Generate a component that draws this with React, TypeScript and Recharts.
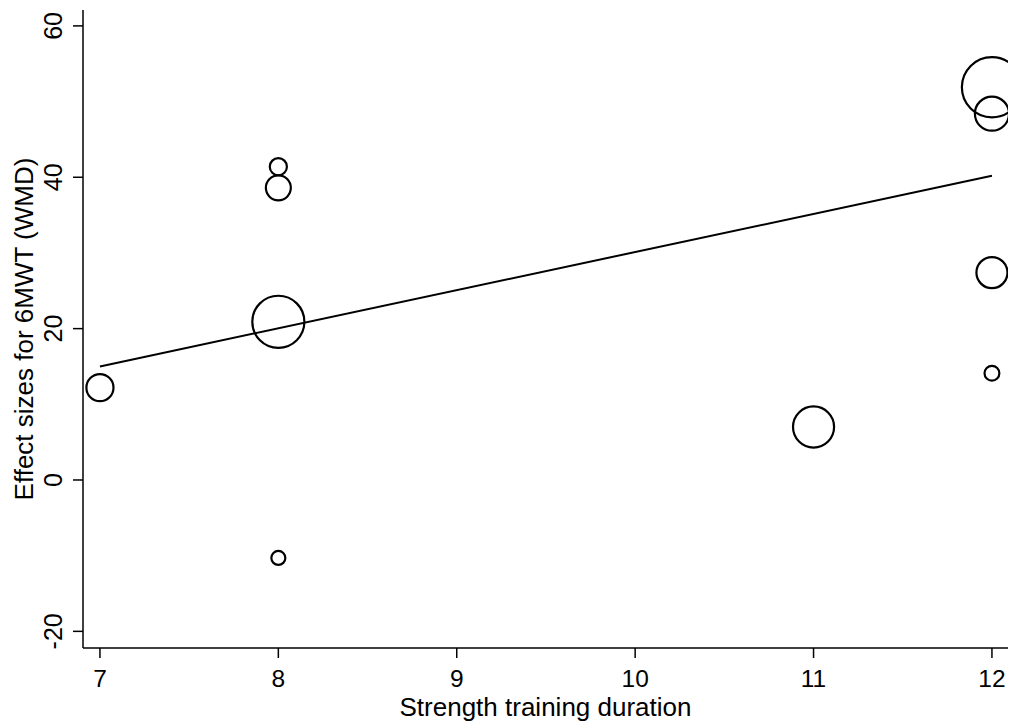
import { ScatterChart, Scatter, XAxis, YAxis, ZAxis, ReferenceLine } from "recharts"

// Study-level effect sizes against training duration (weeks)
const durations = [7, 8, 8, 8, 8, 11, 12, 12, 12, 12]
const effectSizes = [12.2, 41.4, 38.6, 20.9, -10.3, 7.0, 51.9, 48.4, 27.4, 14.1]
// Relative study weights (%), drawn as circle area
const weights = [6.0, 2.4, 5.1, 22.2, 1.6, 13.8, 29.6, 9.5, 7.9, 1.8]

// Meta-regression fitted line
const fitX = [7, 12]
const fitY = [15.0, 40.2]

const xTicks = [7, 8, 9, 10, 11, 12]
const yTicks = [-20, 0, 20, 40, 60]

const points = durations.map((d, i) => ({ x: d, y: effectSizes[i], w: weights[i] }))

const FONT = "'Liberation Sans', Arial, sans-serif"

const XTick = (props: any) => {
  const { x, y, payload } = props
  return (
    <text x={x} y={y + 27} textAnchor="middle" fontFamily={FONT} fontSize={24.5} fill="#000">
      {payload.value}
    </text>
  )
}

const YTick = (props: any) => {
  const { x, y, payload } = props
  const bx = x - 9
  return (
    <text
      x={bx}
      y={y}
      transform={`rotate(-90, ${bx}, ${y})`}
      textAnchor="middle"
      fontFamily={FONT}
      fontSize={25}
      fill="#000"
    >
      {payload.value}
    </text>
  )
}

export default function App() {
  return (
    <div style={{ position: "absolute", left: 0, top: 0, width: 1017, height: 724, background: "#fff" }}>
      <ScatterChart width={1017} height={724} margin={{ top: 10, right: 9, bottom: 0, left: 0 }}>
        <XAxis
          type="number"
          dataKey="x"
          domain={[6.905, 12.09]}
          ticks={xTicks}
          tick={<XTick />}
          tickSize={10}
          height={76}
          axisLine={{ stroke: "#000", strokeWidth: 1.5 }}
          tickLine={{ stroke: "#000", strokeWidth: 1.5 }}
          allowDataOverflow
          label={({ viewBox }: any) => (
            <text
              x={viewBox.x + viewBox.width / 2}
              y={viewBox.y + 68}
              textAnchor="middle"
              fontFamily={FONT}
              fontSize={26}
              fill="#000"
            >
              Strength training duration
            </text>
          )}
        />
        <YAxis
          type="number"
          dataKey="y"
          domain={[-22.2, 62.1]}
          ticks={yTicks}
          tick={<YTick />}
          tickSize={10}
          width={83}
          axisLine={{ stroke: "#000", strokeWidth: 1.5 }}
          tickLine={{ stroke: "#000", strokeWidth: 1.5 }}
          allowDataOverflow
          label={({ viewBox }: any) => {
            const lx = viewBox.x + 33
            const ly = viewBox.y + viewBox.height / 2
            return (
              <text
                x={lx}
                y={ly}
                transform={`rotate(-90, ${lx}, ${ly})`}
                textAnchor="middle"
                fontFamily={FONT}
                fontSize={26}
                fill="#000"
              >
                Effect sizes for 6MWT (WMD)
              </text>
            )
          }}
        />
        <ZAxis type="number" dataKey="w" domain={[0, 30]} range={[0, 2880]} />
        <ReferenceLine
          segment={[
            { x: fitX[0], y: fitY[0] },
            { x: fitX[1], y: fitY[1] },
          ]}
          stroke="#000"
          strokeWidth={2}
        />
        <Scatter data={points} fill="none" stroke="#000" strokeWidth={2.2} isAnimationActive={false} />
      </ScatterChart>
    </div>
  )
}
